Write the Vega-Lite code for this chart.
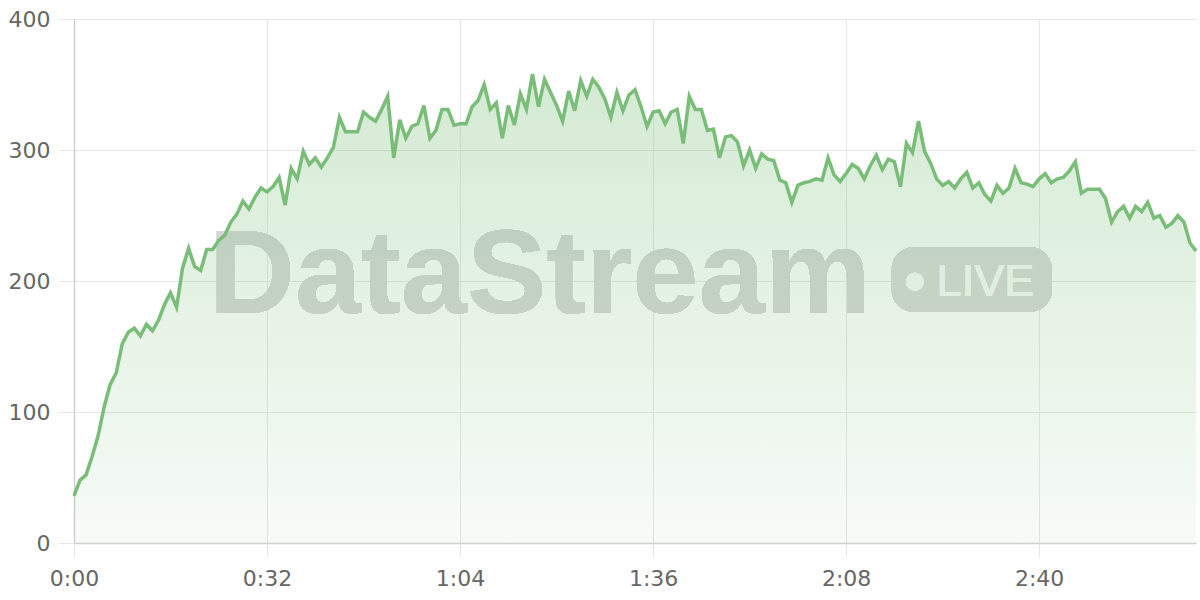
{
  "$schema": "https://vega.github.io/schema/vega-lite/v6.json",
  "width": 1122,
  "height": 524,
  "autosize": {"type": "none"},
  "padding": {"left": 74, "top": 19, "right": 4, "bottom": 57},
  "background": "white",
  "config": {
    "view": {"stroke": null},
    "axis": {
      "labelFont": "DejaVu Sans",
      "labelFontSize": 22,
      "labelColor": "#666666",
      "gridColor": "#e6e6e6",
      "gridWidth": 1,
      "tickColor": "#e6e6e6",
      "domainColor": "#d0d0d0",
      "domainWidth": 1.5,
      "labelFlush": false,
      "title": null
    }
  },
  "data": {"values": [
    {"t":0,"v":36},{"t":1,"v":48},{"t":2,"v":52},{"t":3,"v":66},{"t":4,"v":82},{"t":5,"v":104},{"t":6,"v":121},{"t":7,"v":130},{"t":8,"v":152},{"t":9,"v":161},
    {"t":10,"v":164},{"t":11,"v":158},{"t":12,"v":167},{"t":13,"v":162},{"t":14,"v":170},{"t":15,"v":182},{"t":16,"v":191},{"t":17,"v":180},{"t":18,"v":210},{"t":19,"v":225},
    {"t":20,"v":211},{"t":21,"v":208},{"t":22,"v":224},{"t":23,"v":224},{"t":24,"v":231},{"t":25,"v":235},{"t":26,"v":245},{"t":27,"v":251},{"t":28,"v":261},{"t":29,"v":255},
    {"t":30,"v":264},{"t":31,"v":271},{"t":32,"v":268},{"t":33,"v":272},{"t":34,"v":279},{"t":35,"v":258},{"t":36,"v":286},{"t":37,"v":278},{"t":38,"v":299},{"t":39,"v":289},
    {"t":40,"v":294},{"t":41,"v":287},{"t":42,"v":294},{"t":43,"v":302},{"t":44,"v":325},{"t":45,"v":314},{"t":46,"v":314},{"t":47,"v":314},{"t":48,"v":329},{"t":49,"v":325},
    {"t":50,"v":322},{"t":51,"v":331},{"t":52,"v":341},{"t":53,"v":294},{"t":54,"v":323},{"t":55,"v":309},{"t":56,"v":318},{"t":57,"v":320},{"t":58,"v":334},{"t":59,"v":309},
    {"t":60,"v":315},{"t":61,"v":331},{"t":62,"v":331},{"t":63,"v":319},{"t":64,"v":320},{"t":65,"v":320},{"t":66,"v":333},{"t":67,"v":338},{"t":68,"v":350},{"t":69,"v":331},
    {"t":70,"v":336},{"t":71,"v":309},{"t":72,"v":334},{"t":73,"v":319},{"t":74,"v":343},{"t":75,"v":331},{"t":76,"v":358},{"t":77,"v":333},{"t":78,"v":354},{"t":79,"v":344},
    {"t":80,"v":334},{"t":81,"v":322},{"t":82,"v":345},{"t":83,"v":330},{"t":84,"v":353},{"t":85,"v":341},{"t":86,"v":354},{"t":87,"v":348},{"t":88,"v":339},{"t":89,"v":325},
    {"t":90,"v":344},{"t":91,"v":330},{"t":92,"v":342},{"t":93,"v":346},{"t":94,"v":333},{"t":95,"v":318},{"t":96,"v":329},{"t":97,"v":330},{"t":98,"v":320},{"t":99,"v":329},
    {"t":100,"v":331},{"t":101,"v":305},{"t":102,"v":341},{"t":103,"v":331},{"t":104,"v":331},{"t":105,"v":315},{"t":106,"v":316},{"t":107,"v":294},{"t":108,"v":310},{"t":109,"v":311},
    {"t":110,"v":306},{"t":111,"v":288},{"t":112,"v":300},{"t":113,"v":286},{"t":114,"v":297},{"t":115,"v":293},{"t":116,"v":292},{"t":117,"v":277},{"t":118,"v":275},{"t":119,"v":260},
    {"t":120,"v":273},{"t":121,"v":275},{"t":122,"v":276},{"t":123,"v":278},{"t":124,"v":277},{"t":125,"v":294},{"t":126,"v":281},{"t":127,"v":276},{"t":128,"v":282},{"t":129,"v":289},
    {"t":130,"v":286},{"t":131,"v":278},{"t":132,"v":288},{"t":133,"v":296},{"t":134,"v":285},{"t":135,"v":293},{"t":136,"v":291},{"t":137,"v":272},{"t":138,"v":305},{"t":139,"v":298},
    {"t":140,"v":322},{"t":141,"v":299},{"t":142,"v":290},{"t":143,"v":278},{"t":144,"v":273},{"t":145,"v":276},{"t":146,"v":271},{"t":147,"v":278},{"t":148,"v":283},{"t":149,"v":271},
    {"t":150,"v":275},{"t":151,"v":266},{"t":152,"v":261},{"t":153,"v":273},{"t":154,"v":267},{"t":155,"v":271},{"t":156,"v":286},{"t":157,"v":275},{"t":158,"v":274},{"t":159,"v":272},
    {"t":160,"v":278},{"t":161,"v":282},{"t":162,"v":275},{"t":163,"v":278},{"t":164,"v":279},{"t":165,"v":284},{"t":166,"v":291},{"t":167,"v":267},{"t":168,"v":270},{"t":169,"v":270},
    {"t":170,"v":270},{"t":171,"v":263},{"t":172,"v":245},{"t":173,"v":253},{"t":174,"v":257},{"t":175,"v":248},{"t":176,"v":257},{"t":177,"v":253},{"t":178,"v":260},{"t":179,"v":248},
    {"t":180,"v":250},{"t":181,"v":241},{"t":182,"v":244},{"t":183,"v":250},{"t":184,"v":245},{"t":185,"v":229},{"t":186,"v":223}
  ]},
  "encoding": {
    "x": {
      "field": "t", "type": "quantitative",
      "scale": {"domain": [0, 186], "nice": false, "zero": false},
      "axis": {
        "values": [0, 32, 64, 96, 128, 160],
        "labelExpr": "floor(datum.value/60) + ':' + (datum.value % 60 < 10 ? '0' : '') + (datum.value % 60)",
        "tickSize": 14,
        "labelPadding": 11,
        "grid": true
      }
    },
    "y": {
      "field": "v", "type": "quantitative",
      "scale": {"domain": [0, 400], "nice": false},
      "axis": {
        "values": [0, 100, 200, 300, 400],
        "tickSize": 16,
        "labelPadding": 8,
        "grid": true
      }
    }
  },
  "layer": [
    {
      "mark": {"type": "text", "text": "DataStream", "font": "Liberation Sans", "fontWeight": "bold", "fontSize": 119, "align": "left", "baseline": "alphabetic", "color": "#d6d6d6"},
      "encoding": {
        "x": {"datum": 22.4, "type": "quantitative"},
        "y": {"datum": 175.5, "type": "quantitative"}
      }
    },
    {
      "mark": {"type": "rect", "cornerRadius": 22, "color": "#d8d8d8"},
      "encoding": {
        "x": {"datum": 135.55, "type": "quantitative"},
        "x2": {"datum": 162.1},
        "y": {"datum": 225.7, "type": "quantitative"},
        "y2": {"datum": 176.6}
      }
    },
    {
      "mark": {"type": "point", "shape": "circle", "filled": true, "size": 314, "color": "#fafafa", "opacity": 1, "strokeWidth": 0},
      "encoding": {
        "x": {"datum": 139.4, "type": "quantitative"},
        "y": {"datum": 199.5, "type": "quantitative"}
      }
    },
    {
      "mark": {"type": "text", "text": "LIVE", "font": "Liberation Sans", "fontSize": 45, "align": "left", "baseline": "alphabetic", "color": "#fafafa"},
      "encoding": {
        "x": {"datum": 143.0, "type": "quantitative"},
        "y": {"datum": 188.8, "type": "quantitative"}
      }
    },
    {
      "mark": {
        "type": "area",
        "interpolate": "linear",
        "color": {
          "gradient": "linear",
          "x1": 0, "y1": 0, "x2": 0, "y2": 1,
          "stops": [
            {"offset": 0, "color": "rgba(120,190,120,0.32)"},
            {"offset": 1, "color": "rgba(120,190,120,0.06)"}
          ]
        }
      }
    },
    {
      "mark": {"type": "line", "color": "#79bd79", "strokeWidth": 3.5, "interpolate": "linear"}
    }
  ]
}
